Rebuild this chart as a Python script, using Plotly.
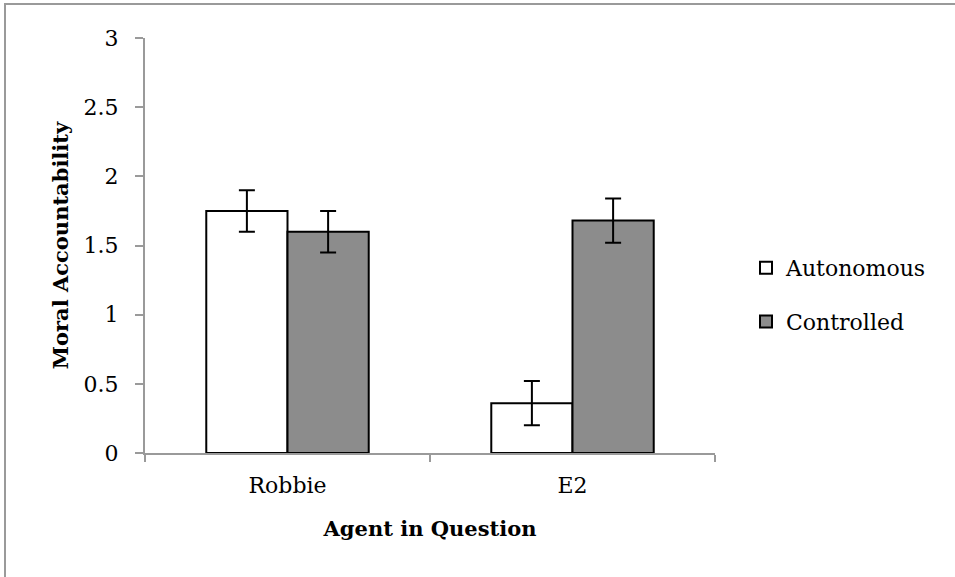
import plotly.graph_objects as go

categories = ["Robbie", "E2"]
autonomous = [1.75, 0.36]
autonomous_err = [0.15, 0.16]
controlled = [1.60, 1.68]
controlled_err = [0.15, 0.16]

FONT = "DejaVu Serif"
AXIS_COLOR = "#9a9a9a"

W, H = 955, 577
L, T = 145, 38
PW, PH = 570, 415

fig = go.Figure()
fig.add_trace(go.Bar(
    name="Autonomous", x=categories, y=autonomous, legendgroup="a",
    marker=dict(color="white", line=dict(color="black", width=2)),
    error_y=dict(type="data", array=autonomous_err, color="black", thickness=2, width=8),
))
fig.add_trace(go.Bar(
    name="Controlled", x=categories, y=controlled, legendgroup="c",
    marker=dict(color="#8c8c8c", line=dict(color="black", width=2)),
    error_y=dict(type="data", array=controlled_err, color="black", thickness=2, width=8),
))

fig.update_layout(
    width=W, height=H,
    margin=dict(l=L, r=W - L - PW, t=T, b=H - T - PH),
    paper_bgcolor="white", plot_bgcolor="white",
    barmode="group", bargap=0.43, bargroupgap=0,
    font=dict(family=FONT, size=22, color="black"),
    showlegend=True,
    legend=dict(x=(746 - L) / PW, xanchor="left", y=(PH - (295 - T)) / PH, yanchor="middle",
                font=dict(family=FONT, size=22), tracegroupgap=22,
                traceorder="grouped", bgcolor="rgba(0,0,0,0)", itemwidth=30),
    xaxis=dict(
        showline=True, linecolor=AXIS_COLOR, linewidth=2,
        ticks="outside", tickson="boundaries", ticklen=7, tickcolor=AXIS_COLOR, tickwidth=2,
        showgrid=False, zeroline=False,
        ticklabelstandoff=12,
        tickfont=dict(family=FONT, size=22),
        title=dict(text="<b>Agent in Question</b>", standoff=24,
                   font=dict(family=FONT, size=21)),
    ),
    yaxis=dict(
        range=[0, 3], dtick=0.5, tick0=0,
        showline=True, linecolor=AXIS_COLOR, linewidth=2,
        ticks="outside", ticklen=8, tickcolor=AXIS_COLOR, tickwidth=2,
        showgrid=False, zeroline=False,
        ticklabelstandoff=12,
        tickfont=dict(family=FONT, size=22),
        title=dict(text="<b>Moral Accountability</b>", standoff=9,
                   font=dict(family=FONT, size=21)),
    ),
)

# outer chart border: only the left and top edges are visible in the reference
px = lambda v: (v - L) / PW
py = lambda v: (PH - (v - T)) / PH
fig.add_shape(type="path", xref="paper", yref="paper",
              path=f"M {px(5)} {py(H + 20)} L {px(5)} {py(4)} L {px(W + 20)} {py(4)}",
              line=dict(color=AXIS_COLOR, width=2), layer="below")

fig.write_html("out.html",
               config={"displayModeBar": False},
               post_script="document.body.style.margin='0px';document.body.style.overflow='hidden';")
